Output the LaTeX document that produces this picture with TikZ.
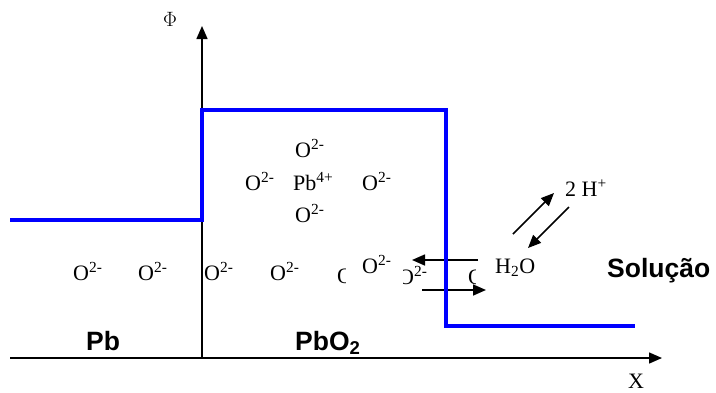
\documentclass[tikz,border=0pt]{standalone}
\usepackage{fontspec}
\setmainfont{Liberation Serif}
\setsansfont{Liberation Sans}
\usetikzlibrary{arrows.meta,positioning}
\definecolor{potblue}{RGB}{0, 0, 255}

\tikzset{
  ion/.style={anchor=base west, inner sep=0pt, font=\fontsize{22}{25}\selectfont},
  phase/.style={anchor=base west, inner sep=0pt, font=\fontsize{26.5}{29}\selectfont\sffamily\bfseries},
  axis/.style={line width=1.5pt, -{Triangle[length=13pt,width=11pt]}},
  flow/.style={line width=1.6pt, -{Triangle[length=13pt,width=11pt]}},
  mask/.style={fill=white, draw=none}
}
\newcommand{\oxy}{O\textsuperscript{2-}}

\begin{document}
\begin{tikzpicture}[x=1pt, y=-1pt]
    \useasboundingbox (0,0) rectangle (716,392);

    % Axes
    \coordinate (origin) at (202,358);
    \coordinate (xleft) at (10,358);
    \coordinate (phitop) at (202,26);
    \coordinate (xend) at (662,358);
    \draw[axis] (origin) -- (phitop);
    \draw[line width=1.5pt] (xleft) -- (origin);
    \draw[axis] (origin) -- (xend);
    \node[inner sep=0pt, font=\fontsize{22}{25}\selectfont] (phi) at (170,19) {$\Phi$};
    \node[inner sep=0pt, font=\fontsize{22}{25}\selectfont] (xlab) at (636,381) {X};

    % Bottom row of oxide ions (some partly hidden)
    \node[ion] (o1) at (73,280) {\oxy};
    \node[ion] (o2) at (138,280) {\oxy};
    \node[ion] (o3) at (204,280) {\oxy};
    \node[ion] (o4) at (270,280) {\oxy};
    \node[ion] (o5) at (337,283) {O};
    \node[ion] (o7) at (398,284) {\oxy};
    \node[ion] (o8) at (468,284) {O};
    \fill[mask] (346,250) rectangle (403,298);
    \fill[mask] (476,250) rectangle (502,298);
    \node[ion] (o6) at (362,273) {\oxy};

    % Lattice cell in PbO2
    \node[ion] (otop) at (295,157) {\oxy};
    \node[ion] (oleft) at (245,190) {\oxy};
    \node[ion] (pb) at (293,190) {Pb\textsuperscript{4+}};
    \node[ion] (oright) at (362,190) {\oxy};
    \node[ion] (obot) at (295,222) {\oxy};

    % Solution side
    \node[ion] (water) at (495,273) {H\textsubscript{2}O};
    \node[ion] (hplus) at (565,196) {2 H\textsuperscript{+}};

    % Exchange arrows
    \coordinate (inA) at (478,260);
    \coordinate (inB) at (412,260);
    \coordinate (outA) at (422,290);
    \coordinate (outB) at (486,290);
    \draw[flow] (inA) -- (inB);
    \draw[flow] (outA) -- (outB);
    \coordinate (upA) at (513,234);
    \coordinate (upB) at (554,193);
    \coordinate (dnA) at (569,207);
    \coordinate (dnB) at (528,248);
    \draw[flow] (upA) -- (upB);
    \draw[flow] (dnA) -- (dnB);

    % Potential profile
    \draw[potblue, line width=4pt] (10,220) -- (202,220) -- (202,110) -- (446,110) -- (446,326) -- (635,326);

    % Phase labels
    \node[phase] (pbmetal) at (86,350) {Pb};
    \node[phase] (pboxide) at (295,350) {PbO\textsubscript{2}};
    \node[phase] (solucao) at (607,277) {Solução};
\end{tikzpicture}
\end{document}
